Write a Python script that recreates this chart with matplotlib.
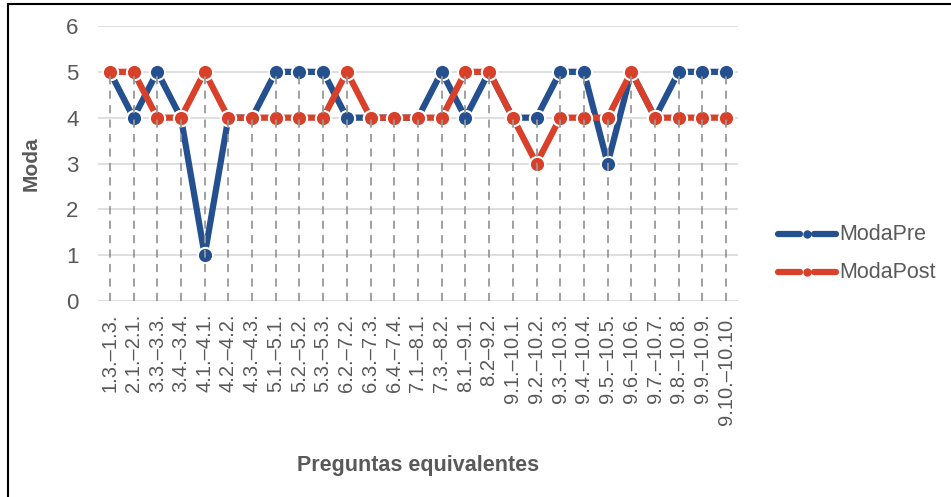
import matplotlib
matplotlib.use("Agg")
import matplotlib.pyplot as plt
from matplotlib.lines import Line2D
import numpy as np

categories = ["1.3.–1.3.", "2.1.–2.1.", "3.3.–3.3.", "3.4.–3.4.", "4.1.–4.1.", "4.2.–4.2.",
              "4.3.–4.3.", "5.1.–5.1.", "5.2.–5.2.", "5.3.–5.3.", "6.2.–7.2.", "6.3.–7.3.",
              "6.4.–7.4.", "7.1.–8.1.", "7.3.–8.2.", "8.1.–9.1.", "8.2–9.2.", "9.1.–10.1.",
              "9.2.–10.2.", "9.3.–10.3.", "9.4.–10.4.", "9.5.–10.5.", "9.6.–10.6.", "9.7.–10.7.",
              "9.8.–10.8.", "9.9.–10.9.", "9.10.–10.10."]
moda_pre = [5, 4, 5, 4, 1, 4, 4, 5, 5, 5, 4, 4, 4, 4, 5, 4, 5, 4, 4, 5, 5, 3, 5, 4, 5, 5, 5]
moda_post = [5, 5, 4, 4, 5, 4, 4, 4, 4, 4, 5, 4, 4, 4, 4, 5, 5, 4, 3, 4, 4, 4, 5, 4, 4, 4, 4]
y_ticks = [0, 1, 2, 3, 4, 5, 6]
series_names = ['ModaPre', 'ModaPost']

plt.rcParams['font.family'] = ['Liberation Sans', 'DejaVu Sans']
W, H = 951, 497
fig = plt.figure(figsize=(W / 100, H / 100), dpi=100)
ax = fig.add_axes([98 / W, 1 - 301 / H, 640 / W, 275 / H])

blue = '#24508f'
red = '#d8402a'
grey_txt = '#595959'

x = np.arange(len(categories))
ax.set_xlim(-0.5, len(categories) - 0.5)
ax.set_ylim(0, 6)

for yv in y_ticks:
    ax.axhline(yv, color='#d9d9d9', lw=1.2, zorder=0)

ax.plot(x, moda_pre, color=blue, lw=4.5, marker='o', ms=11, mfc=blue, mec='white', mew=1.5,
        zorder=3, solid_capstyle='butt', label=series_names[0])
ax.plot(x, moda_post, color=red, lw=4.5, marker='o', ms=11, mfc=red, mec='white', mew=1.5,
        zorder=4, solid_capstyle='butt', label=series_names[1])

tops = np.maximum(moda_pre, moda_post)
ax.vlines(x, 0, tops, colors='#999999', linestyles=(0, (4.5, 3.5)), lw=1.3, zorder=5)

ax.set_xticks(x)
ax.set_xticklabels(categories, rotation=90, fontsize=14.5, color=grey_txt)
ax.set_yticks(y_ticks)
ax.set_yticklabels([str(v) for v in y_ticks], fontsize=16, color=grey_txt)
ax.tick_params(axis='both', length=0)
ax.tick_params(axis='y', pad=14)
ax.tick_params(axis='x', pad=9)
for s in ax.spines.values():
    s.set_visible(False)

ax.set_ylabel('Moda', fontsize=15, fontweight='bold', color=grey_txt, labelpad=18)
fig.text(418 / W, 1 - 466 / H, 'Preguntas equivalentes', fontsize=15.5, fontweight='bold',
         color=grey_txt, ha='center', va='center')

# legend drawn manually for exact placement
for name, col, yp in [(series_names[0], blue, 234), (series_names[1], red, 272)]:
    yf = 1 - yp / H
    fig.add_artist(Line2D([778 / W, 800 / W], [yf, yf], color=col, lw=4.5,
                          solid_capstyle='round', transform=fig.transFigure))
    fig.add_artist(Line2D([814 / W, 836 / W], [yf, yf], color=col, lw=4.5,
                          solid_capstyle='round', transform=fig.transFigure))
    fig.add_artist(Line2D([807 / W], [yf], color=col, marker='o', ms=6, mfc=col,
                          mec='none', transform=fig.transFigure))
    fig.text(839 / W, yf, name, fontsize=15.5, color=grey_txt, ha='left', va='center')

fig.add_artist(Line2D([8 / W, 1], [1 - 4 / H, 1 - 4 / H], color='black', lw=1.5,
                      transform=fig.transFigure))
fig.add_artist(Line2D([8 / W, 8 / W], [0, 1 - 4 / H], color='black', lw=1.5,
                      transform=fig.transFigure))

fig.savefig('out.png', dpi=100)
